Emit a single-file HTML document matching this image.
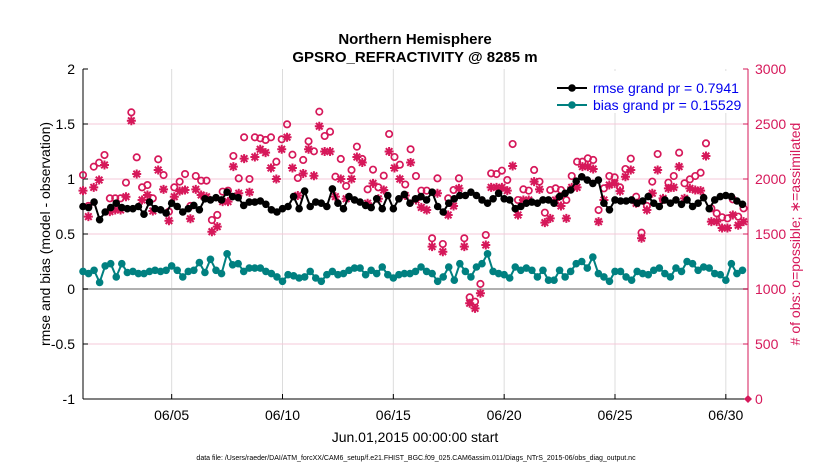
<!DOCTYPE html>
<html><head><meta charset="utf-8"><style>
body{margin:0;background:#fff;}
svg{display:block;font-family:"Liberation Sans",sans-serif;}
</style></head><body>
<svg id="chart" width="830" height="470" viewBox="0 0 830 470">
<rect width="830" height="470" fill="#fff"/>
<g id="grid"></g>
<g id="axes"></g>
<g id="series"></g>
<text x="415" y="44" text-anchor="middle" font-size="15" font-weight="bold">Northern Hemisphere</text>
<text x="415" y="62" text-anchor="middle" font-size="15" font-weight="bold">GPSRO_REFRACTIVITY @ 8285 m</text>
<text transform="translate(50,234) rotate(-90)" text-anchor="middle" font-size="14">rmse and bias (model - observation)</text>
<text transform="translate(800,234) rotate(-90)" text-anchor="middle" font-size="14" fill="#d6185a"># of obs: o=possible; ∗=assimilated</text>
<text x="415" y="442" text-anchor="middle" font-size="14">Jun.01,2015 00:00:00 start</text>
<text x="416" y="460" text-anchor="middle" font-size="7">data file: /Users/raeder/DAI/ATM_forcXX/CAM6_setup/f.e21.FHIST_BGC.f09_025.CAM6assim.011/Diags_NTrS_2015-06/obs_diag_output.nc</text>
<g>
<rect x="553" y="71" width="193" height="42" fill="#fff"/>
<line x1="557" y1="88" x2="587" y2="88" stroke="#000" stroke-width="2"/>
<circle cx="572" cy="88" r="3.8" fill="#000"/>
<text x="593" y="93" font-size="14" fill="#0000ee">rmse grand pr = 0.7941</text>
<line x1="557" y1="105" x2="587" y2="105" stroke="#008080" stroke-width="2"/>
<circle cx="572" cy="105" r="3.8" fill="#008080"/>
<text x="593" y="110" font-size="14" fill="#0000ee">bias grand pr = 0.15529</text>
</g>
</svg>
<script>
const rmse=[0.75,0.74,0.79,0.63,0.70,0.74,0.78,0.74,0.73,0.73,0.75,0.68,0.79,0.73,0.72,0.69,0.78,0.75,0.70,0.73,0.76,0.72,0.82,0.81,0.83,0.81,0.88,0.84,0.83,0.76,0.79,
0.79,0.80,0.77,0.72,0.70,0.73,0.75,0.84,0.73,0.89,0.75,0.79,0.78,0.75,0.91,0.78,0.73,0.84,0.81,0.79,0.76,0.74,0.82,0.73,0.85,0.73,0.82,0.86,0.78,0.82,0.84,
0.81,0.88,0.75,0.70,0.78,0.82,0.85,0.85,0.88,0.85,0.81,0.78,0.82,0.87,0.82,0.81,0.73,0.75,0.78,0.79,0.78,0.81,0.81,0.78,0.84,0.87,0.90,0.98,1.02,0.99,
0.96,0.99,0.78,0.72,0.81,0.80,0.80,0.81,0.78,0.80,0.84,0.78,0.75,0.81,0.78,0.81,0.77,0.81,0.75,0.78,0.83,0.73,0.81,0.84,0.85,0.84,0.80,0.77];
const bias=[0.16,0.14,0.17,0.06,0.21,0.23,0.11,0.23,0.15,0.16,0.14,0.14,0.16,0.17,0.16,0.17,0.21,0.17,0.11,0.16,0.17,0.24,0.15,0.27,0.17,0.14,0.32,0.22,0.23,0.16,0.19,
0.19,0.19,0.16,0.14,0.11,0.07,0.13,0.12,0.10,0.11,0.16,0.10,0.07,0.13,0.16,0.13,0.14,0.17,0.19,0.19,0.13,0.17,0.14,0.20,0.13,0.10,0.13,0.14,0.14,0.16,0.20,
0.16,0.14,0.07,0.11,0.20,0.08,0.23,0.16,0.11,0.20,0.23,0.32,0.16,0.14,0.13,0.10,0.20,0.17,0.19,0.17,0.11,0.17,0.08,0.08,0.17,0.11,0.16,0.23,0.25,0.19,
0.29,0.14,0.11,0.07,0.16,0.16,0.11,0.08,0.16,0.14,0.13,0.17,0.19,0.14,0.11,0.19,0.16,0.25,0.23,0.17,0.20,0.19,0.14,0.13,0.08,0.23,0.14,0.17];
const possible=[2036,1755,2112,2148,2218,1824,1824,1824,1967,2606,2197,1924,1945,1824,2179,2036,1703,1924,1976,2045,1755,2027,1985,1985,1627,1673,1885,1894,2209,2006,2379,
2000,2379,2370,2355,2379,2157,2361,2497,2221,2009,2173,2343,2252,2612,2391,2430,2021,2182,1936,2082,2294,2182,1906,2085,1924,2030,2409,2200,2130,1950,2270,
2027,1894,1894,1461,2006,1409,1824,1900,2006,1461,924,885,1046,1491,2051,2045,2076,1991,2318,1809,1906,1894,2082,1976,1694,1900,1915,1900,1809,2027,2157,
2157,2188,2173,1718,1915,2027,2015,1924,2091,2185,1839,1512,1755,1976,2227,1809,1967,2027,2239,1961,1997,2027,2057,2324,1733,1688,1652,1642,1815,1658,1733];
const assimilated=[1894,1658,1924,1991,2127,1703,1718,1718,1839,2530,2045,1809,1855,1709,2082,1906,1621,1839,1890,1900,1639,1906,1855,1839,1521,1567,1794,1794,2112,1870,2185,
1880,2200,2270,2240,2100,2000,2270,2380,2100,1850,2050,2270,2030,2480,2250,2250,1840,2000,1820,2000,2200,2150,1780,1960,1820,1900,2250,2100,2000,1850,2150,
1809,1742,1718,1385,1870,1339,1673,1755,1915,1385,870,824,961,1400,1924,1924,1924,1894,2118,1673,1809,1809,1976,1906,1603,1642,1809,1755,1642,1924,1924,
2112,2112,2091,1612,1809,1945,1960,1890,2021,2082,1779,1461,1718,1870,2082,1824,1915,1924,2112,1824,1915,1900,1894,2209,1612,1612,1555,1555,1673,1579,1612];
const dayTicks=[4,9,14,19,24,29];
const dayTickLabels=["06/05","06/10","06/15","06/20","06/25","06/30"];
const leftTicks=[-1,-0.5,0,0.5,1,1.5,2];
const rightTicks=[0,500,1000,1500,2000,2500,3000];
const ns="http://www.w3.org/2000/svg";
const X0=83,X1=748,Y0=399,Y1=69;
const xs=d=>X0+d/30*(X1-X0);
const yl=v=>Y0-(v+1)/3*(Y0-Y1);
const yr=n=>Y0-n/3000*(Y0-Y1);
function mk(parent,tag,attrs){const e=document.createElementNS(ns,tag);for(const k in attrs)e.setAttribute(k,attrs[k]);parent.appendChild(e);return e;}
const grid=document.getElementById('grid'),axes=document.getElementById('axes'),ser=document.getElementById('series');
dayTicks.forEach((d,i)=>{
  const g=mk(grid,'line',{x1:xs(d),x2:xs(d),y1:Y1,y2:Y0,stroke:'#dcdcdc','stroke-width':1});
  
  
  mk(axes,'line',{x1:xs(d),x2:xs(d),y1:Y0,y2:Y0-5,stroke:'#000'});
  const t=mk(axes,'text',{x:xs(d),y:Y0+21,'text-anchor':'middle','font-size':14});
  t.textContent=dayTickLabels[i];
  
  
});
rightTicks.forEach(n=>{
  if(n>0&&n<3000){const g=mk(grid,'line',{x1:X0,x2:X1,y1:yr(n),y2:yr(n),stroke:'#f5c8d8','stroke-width':1});
  
  }
  mk(axes,'line',{x1:X1,x2:X1-5,y1:yr(n),y2:yr(n),stroke:'#d6185a'});
  const t=mk(axes,'text',{x:X1+7,y:yr(n)+5,'font-size':14,fill:'#d6185a'});
  t.textContent=n;
  
  
});
leftTicks.forEach(v=>{
  mk(axes,'line',{x1:X0,x2:X0+5,y1:yl(v),y2:yl(v),stroke:'#000'});
  const t=mk(axes,'text',{x:X0-8,y:yl(v)+5,'text-anchor':'end','font-size':14});
  t.textContent=v;
  
  
});
const zl=mk(grid,'line',{x1:X0,x2:X1,y1:yl(0),y2:yl(0),stroke:'#b0b0b0','stroke-width':2});


mk(axes,'line',{x1:X0,x2:X0,y1:Y1,y2:Y0,stroke:'#000'});
mk(axes,'line',{x1:X0,x2:X1,y1:Y0,y2:Y0,stroke:'#000'});
mk(axes,'line',{x1:X1,x2:X1,y1:Y1,y2:Y0,stroke:'#d6185a'});
const dm=mk(axes,'path',{d:`M${X1-4},${Y0} L${X1},${Y0-4} L${X1+4},${Y0} L${X1},${Y0+4}Z`,fill:'#d6185a'});


function obsX(i,len){return xs(i*29.8/(len-1));}
possible.forEach((n,i)=>{
  const c=mk(ser,'circle',{cx:obsX(i,possible.length),cy:yr(n),r:3.2,fill:'none',stroke:'#d6185a','stroke-width':1.7});
  
  
});
assimilated.forEach((n,i)=>{
  const x=obsX(i,assimilated.length),y=yr(n);
  const g=mk(ser,'path',{d:`M${x-4.5},${y}H${x+4.5}M${x},${y-4.5}V${y+4.5}M${x-3.3},${y-3.3}L${x+3.3},${y+3.3}M${x-3.3},${y+3.3}L${x+3.3},${y-3.3}`,stroke:'#d6185a','stroke-width':2});
  
  
});
function line(arr,color,name){
  const step=29.75/(arr.length-1);
  const p=mk(ser,'polyline',{points:arr.map((v,i)=>xs(i*step)+','+yl(v)).join(' '),fill:'none',stroke:color,'stroke-width':2});
  
  
  arr.forEach((v,i)=>{
    const c=mk(ser,'circle',{cx:xs(i*step),cy:yl(v),r:3.8,fill:color});
    
    
  });
}
line(bias,'#008080','bias');
line(rmse,'#000000','rmse');
</script>
</body></html>
